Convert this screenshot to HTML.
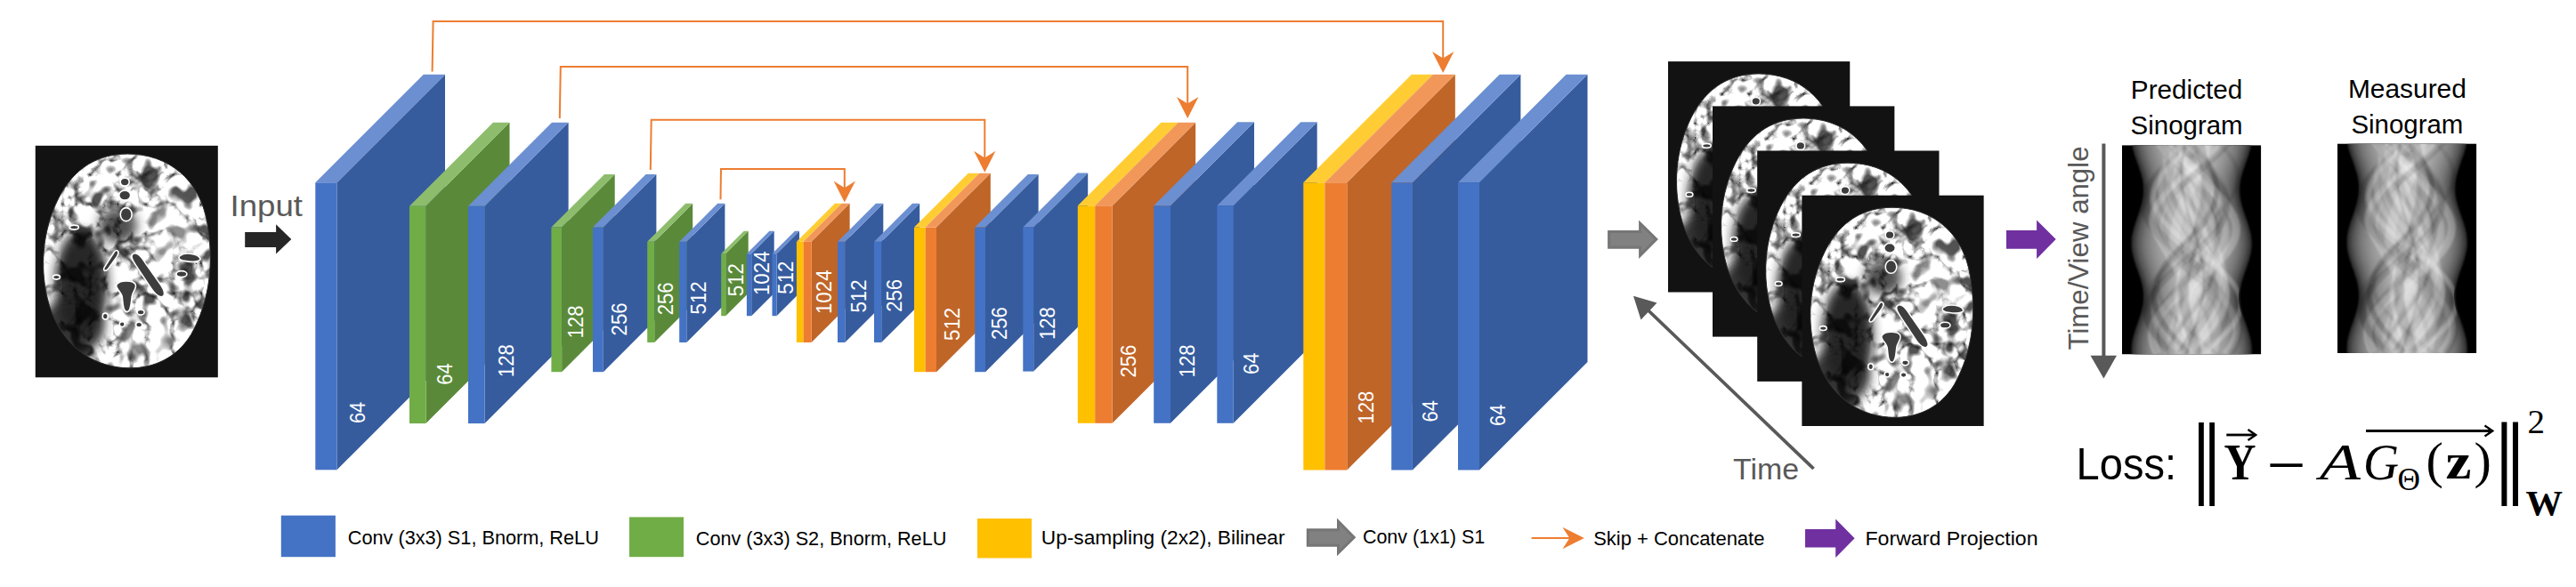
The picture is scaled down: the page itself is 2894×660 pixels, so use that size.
<!DOCTYPE html>
<html lang="en"><head><meta charset="utf-8"><title>Network architecture</title>
<style>html,body{margin:0;padding:0;background:#fff}body{width:2894px;height:660px;overflow:hidden}svg{display:block}text{font-family:"Liberation Sans",sans-serif}.lb{fill:#fff}.gr{fill:#595959}.lg{fill:#000;font-size:22.3px}.sf{font-family:"Liberation Serif",serif}</style></head><body>
<svg width="2894" height="660" viewBox="0 0 2894 660">
<defs>
<filter id="bn" x="0" y="0" width="100%" height="100%" color-interpolation-filters="sRGB"><feTurbulence type="turbulence" baseFrequency="0.032 0.03" numOctaves="3" seed="8" result="t"/><feColorMatrix in="t" type="matrix" values="3.4 0 0 0 0.1  3.4 0 0 0 0.1  3.4 0 0 0 0.1  0 0 0 0 1" result="v"/><feTurbulence type="fractalNoise" baseFrequency="0.05 0.045" numOctaves="2" seed="11" result="t2"/><feColorMatrix in="t2" type="matrix" values="5 0 0 0 -1.55  5 0 0 0 -1.55  5 0 0 0 -1.55  0 0 0 0 1" result="b"/><feComposite in="v" in2="b" operator="arithmetic" k1="0.85" k2="0.22" k3="0" k4="0.1" result="g"/><feComposite in="g" in2="SourceGraphic" operator="in"/></filter>
<filter id="bl4" x="-30%" y="-30%" width="160%" height="160%"><feGaussianBlur stdDeviation="6"/></filter>
<filter id="bl1" x="-30%" y="-30%" width="160%" height="160%"><feGaussianBlur stdDeviation="0.7"/></filter>
<clipPath id="bc"><path id="bo" d="M104,9.5 C150,9.5 186,38 194,88 C201,130 198,172 176,212 C158,242 128,252 100,250 C62,247 30,224 16,180 C4,140 8,96 26,60 C44,24 72,9.5 104,9.5 Z"/></clipPath>
<g id="bg">
<g clip-path="url(#bc)">
<path d="M104,9.5 C150,9.5 186,38 194,88 C201,130 198,172 176,212 C158,242 128,252 100,250 C62,247 30,224 16,180 C4,140 8,96 26,60 C44,24 72,9.5 104,9.5 Z" fill="#fff" filter="url(#bn)"/>
<g style="mix-blend-mode:multiply">
<ellipse cx="52" cy="155" rx="30" ry="60" fill="#1c1c1c" opacity="0.95" filter="url(#bl4)"/>
<ellipse cx="93" cy="90" rx="22" ry="20" fill="#262626" opacity="0.8" filter="url(#bl4)"/>
<ellipse cx="42" cy="204" rx="36" ry="32" fill="#222" opacity="0.9" filter="url(#bl4)"/>
</g>
<ellipse cx="152" cy="100" rx="26" ry="40" fill="#fff" opacity="0.35" filter="url(#bl4)"/>
<ellipse cx="125" cy="218" rx="32" ry="20" fill="#fff" opacity="0.35" filter="url(#bl4)"/>
<ellipse cx="20" cy="120" rx="5" ry="12" fill="#fff" opacity="0.5" filter="url(#bl4)"/>
<ellipse cx="22" cy="160" rx="5" ry="8" fill="#fff" opacity="0.35" filter="url(#bl4)"/>
<g fill="#3d3d3d" stroke="#fff" stroke-width="1.6" filter="url(#bl1)">
<ellipse cx="101" cy="41" rx="5" ry="4.5"/><ellipse cx="101" cy="56" rx="6.5" ry="5.5"/><ellipse cx="102.5" cy="77.5" rx="6.5" ry="7.5"/>
<path d="M110,122 C114,119 119,124 124,132 L141,156 C146,163 147,169 143,170 C139,171 134,166 129,158 L113,134 C109,128 107,124 110,122 Z"/>
<path d="M92,118 C95,119 94,123 90,128 L82,139 C79,142 76,141 78,137 L87,123 C89,120 90,117 92,118 Z"/>
<path d="M92,156 C96,151 110,151 113,156 C115,160 110,164 109,170 C108,178 108,186 104,187 C99,188 99,178 98,170 C97,164 89,160 92,156 Z"/>
<path d="M163,124 C170,119 184,122 186,127 C187,131 176,131 170,130 C164,130 160,127 163,124 Z"/>
<ellipse cx="165" cy="144.500" rx="6" ry="3.500"/>
<ellipse cx="79" cy="192" rx="3" ry="3.500"/><ellipse cx="98" cy="201" rx="3" ry="3"/><ellipse cx="119" cy="187.500" rx="4" ry="3"/><ellipse cx="117" cy="201.500" rx="3.500" ry="3"/>
<ellipse cx="24" cy="148" rx="4" ry="2.500"/><ellipse cx="44" cy="92" rx="5" ry="2.500"/>
</g></g>
<use href="#bo" fill="none" stroke="#333" stroke-width="1"/>
</g>
<symbol id="brain" viewBox="0 0 206 261" preserveAspectRatio="none"><rect width="206" height="261" fill="#121212"/><use href="#bg"/></symbol>
<symbol id="brain2" viewBox="0 0 206 261" preserveAspectRatio="none"><rect width="206" height="261" fill="#121212"/><use href="#bg" transform="translate(102.2 132) scale(0.978 0.986) translate(-103.75 -129.25)"/></symbol>
<filter id="sb0" x="-20%" y="-10%" width="140%" height="120%"><feGaussianBlur stdDeviation="0.9"/></filter>
<filter id="sb1" x="-20%" y="-10%" width="140%" height="120%"><feGaussianBlur stdDeviation="2"/></filter>
<filter id="sb2" x="-20%" y="-10%" width="140%" height="120%"><feGaussianBlur stdDeviation="3.5"/></filter>
<filter id="sb3" x="-20%" y="-10%" width="140%" height="120%"><feGaussianBlur stdDeviation="5.5"/></filter>
<filter id="sb4" x="-20%" y="-10%" width="140%" height="120%"><feGaussianBlur stdDeviation="7"/></filter>
<filter id="sb5" x="-20%" y="-10%" width="140%" height="120%"><feGaussianBlur stdDeviation="8"/></filter>
<filter id="sbx" x="-20%" y="-20%" width="140%" height="140%"><feGaussianBlur stdDeviation="1.3"/></filter>
<clipPath id="sc"><rect width="156" height="236"/></clipPath>
<clipPath id="sc2"><path d="M11.7,-8 L12.0,-4 L12.5,0 L13.3,4 L14.3,8 L15.5,12 L16.9,16 L18.3,20 L19.7,24 L21.0,28 L22.3,32 L23.4,36 L24.3,40 L24.9,44 L25.2,48 L25.3,52 L25.0,56 L24.5,60 L23.7,64 L22.7,68 L21.5,72 L20.2,76 L18.8,80 L17.4,84 L16.0,88 L14.8,92 L13.7,96 L12.8,100 L12.1,104 L11.8,108 L11.7,112 L11.9,116 L12.4,120 L13.2,124 L14.2,128 L15.4,132 L16.7,136 L18.1,140 L19.6,144 L20.9,148 L22.2,152 L23.3,156 L24.2,160 L24.8,164 L25.2,168 L25.3,172 L25.1,176 L24.6,180 L23.8,184 L22.8,188 L21.6,192 L20.3,196 L18.9,200 L17.5,204 L16.1,208 L14.9,212 L13.8,216 L12.8,220 L12.2,224 L11.8,228 L11.7,232 L11.9,236 L12.4,240 L13.1,244 L142.9,244 L143.6,240 L144.1,236 L144.3,232 L144.2,228 L143.8,224 L143.2,220 L142.2,216 L141.1,212 L139.9,208 L138.5,204 L137.1,200 L135.7,196 L134.4,192 L133.2,188 L132.2,184 L131.4,180 L130.9,176 L130.7,172 L130.8,168 L131.2,164 L131.8,160 L132.7,156 L133.8,152 L135.1,148 L136.4,144 L137.9,140 L139.3,136 L140.6,132 L141.8,128 L142.8,124 L143.6,120 L144.1,116 L144.3,112 L144.2,108 L143.9,104 L143.2,100 L142.3,96 L141.2,92 L140.0,88 L138.6,84 L137.2,80 L135.8,76 L134.5,72 L133.3,68 L132.3,64 L131.5,60 L131.0,56 L130.7,52 L130.8,48 L131.1,44 L131.7,40 L132.6,36 L133.7,32 L135.0,28 L136.3,24 L137.7,20 L139.1,16 L140.5,12 L141.7,8 L142.7,4 L143.5,0 L144.0,-4 L144.3,-8 Z"/></clipPath>
<symbol id="sino" viewBox="0 0 156 236" preserveAspectRatio="none">
<rect width="156" height="236" fill="#000"/>
<g clip-path="url(#sc)">
<path d="M10.7,-8 L11.0,-4 L11.5,0 L12.3,4 L13.3,8 L14.5,12 L15.9,16 L17.3,20 L18.7,24 L20.0,28 L21.3,32 L22.4,36 L23.3,40 L23.9,44 L24.2,48 L24.3,52 L24.0,56 L23.5,60 L22.7,64 L21.7,68 L20.5,72 L19.2,76 L17.8,80 L16.4,84 L15.0,88 L13.8,92 L12.7,96 L11.8,100 L11.1,104 L10.8,108 L10.7,112 L10.9,116 L11.4,120 L12.2,124 L13.2,128 L14.4,132 L15.7,136 L17.1,140 L18.6,144 L19.9,148 L21.2,152 L22.3,156 L23.2,160 L23.8,164 L24.2,168 L24.3,172 L24.1,176 L23.6,180 L22.8,184 L21.8,188 L20.6,192 L19.3,196 L17.9,200 L16.5,204 L15.1,208 L13.9,212 L12.8,216 L11.8,220 L11.2,224 L10.8,228 L10.7,232 L10.9,236 L11.4,240 L12.1,244 L143.9,244 L144.6,240 L145.1,236 L145.3,232 L145.2,228 L144.8,224 L144.2,220 L143.2,216 L142.1,212 L140.9,208 L139.5,204 L138.1,200 L136.7,196 L135.4,192 L134.2,188 L133.2,184 L132.4,180 L131.9,176 L131.7,172 L131.8,168 L132.2,164 L132.8,160 L133.7,156 L134.8,152 L136.1,148 L137.4,144 L138.9,140 L140.3,136 L141.6,132 L142.8,128 L143.8,124 L144.6,120 L145.1,116 L145.3,112 L145.2,108 L144.9,104 L144.2,100 L143.3,96 L142.2,92 L141.0,88 L139.6,84 L138.2,80 L136.8,76 L135.5,72 L134.3,68 L133.3,64 L132.5,60 L132.0,56 L131.7,52 L131.8,48 L132.1,44 L132.7,40 L133.6,36 L134.7,32 L136.0,28 L137.3,24 L138.7,20 L140.1,16 L141.5,12 L142.7,8 L143.7,4 L144.5,0 L145.0,-4 L145.3,-8 Z" fill="#333" filter="url(#sb0)"/>
<path d="M14.7,-8 L15.0,-4 L15.5,0 L16.3,4 L17.3,8 L18.5,12 L19.9,16 L21.3,20 L22.7,24 L24.0,28 L25.3,32 L26.4,36 L27.3,40 L27.9,44 L28.2,48 L28.3,52 L28.0,56 L27.5,60 L26.7,64 L25.7,68 L24.5,72 L23.2,76 L21.8,80 L20.4,84 L19.0,88 L17.8,92 L16.7,96 L15.8,100 L15.1,104 L14.8,108 L14.7,112 L14.9,116 L15.4,120 L16.2,124 L17.2,128 L18.4,132 L19.7,136 L21.1,140 L22.6,144 L23.9,148 L25.2,152 L26.3,156 L27.2,160 L27.8,164 L28.2,168 L28.3,172 L28.1,176 L27.6,180 L26.8,184 L25.8,188 L24.6,192 L23.3,196 L21.9,200 L20.5,204 L19.1,208 L17.9,212 L16.8,216 L15.8,220 L15.2,224 L14.8,228 L14.7,232 L14.9,236 L15.4,240 L16.1,244 L139.9,244 L140.6,240 L141.1,236 L141.3,232 L141.2,228 L140.8,224 L140.2,220 L139.2,216 L138.1,212 L136.9,208 L135.5,204 L134.1,200 L132.7,196 L131.4,192 L130.2,188 L129.2,184 L128.4,180 L127.9,176 L127.7,172 L127.8,168 L128.2,164 L128.8,160 L129.7,156 L130.8,152 L132.1,148 L133.4,144 L134.9,140 L136.3,136 L137.6,132 L138.8,128 L139.8,124 L140.6,120 L141.1,116 L141.3,112 L141.2,108 L140.9,104 L140.2,100 L139.3,96 L138.2,92 L137.0,88 L135.6,84 L134.2,80 L132.8,76 L131.5,72 L130.3,68 L129.3,64 L128.5,60 L128.0,56 L127.7,52 L127.8,48 L128.1,44 L128.7,40 L129.6,36 L130.7,32 L132.0,28 L133.3,24 L134.7,20 L136.1,16 L137.5,12 L138.7,8 L139.7,4 L140.5,0 L141.0,-4 L141.3,-8 Z" fill="#505050" filter="url(#sb1)"/>
<path d="M20.7,-8 L21.0,-4 L21.5,0 L22.3,4 L23.3,8 L24.5,12 L25.9,16 L27.3,20 L28.7,24 L30.0,28 L31.3,32 L32.4,36 L33.3,40 L33.9,44 L34.2,48 L34.3,52 L34.0,56 L33.5,60 L32.7,64 L31.7,68 L30.5,72 L29.2,76 L27.8,80 L26.4,84 L25.0,88 L23.8,92 L22.7,96 L21.8,100 L21.1,104 L20.8,108 L20.7,112 L20.9,116 L21.4,120 L22.2,124 L23.2,128 L24.4,132 L25.7,136 L27.1,140 L28.6,144 L29.9,148 L31.2,152 L32.3,156 L33.2,160 L33.8,164 L34.2,168 L34.3,172 L34.1,176 L33.6,180 L32.8,184 L31.8,188 L30.6,192 L29.3,196 L27.9,200 L26.5,204 L25.1,208 L23.9,212 L22.8,216 L21.8,220 L21.2,224 L20.8,228 L20.7,232 L20.9,236 L21.4,240 L22.1,244 L133.9,244 L134.6,240 L135.1,236 L135.3,232 L135.2,228 L134.8,224 L134.2,220 L133.2,216 L132.1,212 L130.9,208 L129.5,204 L128.1,200 L126.7,196 L125.4,192 L124.2,188 L123.2,184 L122.4,180 L121.9,176 L121.7,172 L121.8,168 L122.2,164 L122.8,160 L123.7,156 L124.8,152 L126.1,148 L127.4,144 L128.9,140 L130.3,136 L131.6,132 L132.8,128 L133.8,124 L134.6,120 L135.1,116 L135.3,112 L135.2,108 L134.9,104 L134.2,100 L133.3,96 L132.2,92 L131.0,88 L129.6,84 L128.2,80 L126.8,76 L125.5,72 L124.3,68 L123.3,64 L122.5,60 L122.0,56 L121.7,52 L121.8,48 L122.1,44 L122.7,40 L123.6,36 L124.7,32 L126.0,28 L127.3,24 L128.7,20 L130.1,16 L131.5,12 L132.7,8 L133.7,4 L134.5,0 L135.0,-4 L135.3,-8 Z" fill="#6e6e6e" filter="url(#sb2)"/>
<path d="M28.7,-8 L29.0,-4 L29.5,0 L30.3,4 L31.3,8 L32.5,12 L33.9,16 L35.3,20 L36.7,24 L38.0,28 L39.3,32 L40.4,36 L41.3,40 L41.9,44 L42.2,48 L42.3,52 L42.0,56 L41.5,60 L40.7,64 L39.7,68 L38.5,72 L37.2,76 L35.8,80 L34.4,84 L33.0,88 L31.8,92 L30.7,96 L29.8,100 L29.1,104 L28.8,108 L28.7,112 L28.9,116 L29.4,120 L30.2,124 L31.2,128 L32.4,132 L33.7,136 L35.1,140 L36.6,144 L37.9,148 L39.2,152 L40.3,156 L41.2,160 L41.8,164 L42.2,168 L42.3,172 L42.1,176 L41.6,180 L40.8,184 L39.8,188 L38.6,192 L37.3,196 L35.9,200 L34.5,204 L33.1,208 L31.9,212 L30.8,216 L29.8,220 L29.2,224 L28.8,228 L28.7,232 L28.9,236 L29.4,240 L30.1,244 L125.9,244 L126.6,240 L127.1,236 L127.3,232 L127.2,228 L126.8,224 L126.2,220 L125.2,216 L124.1,212 L122.9,208 L121.5,204 L120.1,200 L118.7,196 L117.4,192 L116.2,188 L115.2,184 L114.4,180 L113.9,176 L113.7,172 L113.8,168 L114.2,164 L114.8,160 L115.7,156 L116.8,152 L118.1,148 L119.4,144 L120.9,140 L122.3,136 L123.6,132 L124.8,128 L125.8,124 L126.6,120 L127.1,116 L127.3,112 L127.2,108 L126.9,104 L126.2,100 L125.3,96 L124.2,92 L123.0,88 L121.6,84 L120.2,80 L118.8,76 L117.5,72 L116.3,68 L115.3,64 L114.5,60 L114.0,56 L113.7,52 L113.8,48 L114.1,44 L114.7,40 L115.6,36 L116.7,32 L118.0,28 L119.3,24 L120.7,20 L122.1,16 L123.5,12 L124.7,8 L125.7,4 L126.5,0 L127.0,-4 L127.3,-8 Z" fill="#8c8c8c" filter="url(#sb3)"/>
<path d="M40.7,-8 L41.0,-4 L41.5,0 L42.3,4 L43.3,8 L44.5,12 L45.9,16 L47.3,20 L48.7,24 L50.0,28 L51.3,32 L52.4,36 L53.3,40 L53.9,44 L54.2,48 L54.3,52 L54.0,56 L53.5,60 L52.7,64 L51.7,68 L50.5,72 L49.2,76 L47.8,80 L46.4,84 L45.0,88 L43.8,92 L42.7,96 L41.8,100 L41.1,104 L40.8,108 L40.7,112 L40.9,116 L41.4,120 L42.2,124 L43.2,128 L44.4,132 L45.7,136 L47.1,140 L48.6,144 L49.9,148 L51.2,152 L52.3,156 L53.2,160 L53.8,164 L54.2,168 L54.3,172 L54.1,176 L53.6,180 L52.8,184 L51.8,188 L50.6,192 L49.3,196 L47.9,200 L46.5,204 L45.1,208 L43.9,212 L42.8,216 L41.8,220 L41.2,224 L40.8,228 L40.7,232 L40.9,236 L41.4,240 L42.1,244 L113.9,244 L114.6,240 L115.1,236 L115.3,232 L115.2,228 L114.8,224 L114.2,220 L113.2,216 L112.1,212 L110.9,208 L109.5,204 L108.1,200 L106.7,196 L105.4,192 L104.2,188 L103.2,184 L102.4,180 L101.9,176 L101.7,172 L101.8,168 L102.2,164 L102.8,160 L103.7,156 L104.8,152 L106.1,148 L107.4,144 L108.9,140 L110.3,136 L111.6,132 L112.8,128 L113.8,124 L114.6,120 L115.1,116 L115.3,112 L115.2,108 L114.9,104 L114.2,100 L113.3,96 L112.2,92 L111.0,88 L109.6,84 L108.2,80 L106.8,76 L105.5,72 L104.3,68 L103.3,64 L102.5,60 L102.0,56 L101.7,52 L101.8,48 L102.1,44 L102.7,40 L103.6,36 L104.7,32 L106.0,28 L107.3,24 L108.7,20 L110.1,16 L111.5,12 L112.7,8 L113.7,4 L114.5,0 L115.0,-4 L115.3,-8 Z" fill="#aaa" filter="url(#sb4)"/>
<path d="M56.7,-8 L57.0,-4 L57.5,0 L58.3,4 L59.3,8 L60.5,12 L61.9,16 L63.3,20 L64.7,24 L66.0,28 L67.3,32 L68.4,36 L69.3,40 L69.9,44 L70.2,48 L70.3,52 L70.0,56 L69.5,60 L68.7,64 L67.7,68 L66.5,72 L65.2,76 L63.8,80 L62.4,84 L61.0,88 L59.8,92 L58.7,96 L57.8,100 L57.1,104 L56.8,108 L56.7,112 L56.9,116 L57.4,120 L58.2,124 L59.2,128 L60.4,132 L61.7,136 L63.1,140 L64.6,144 L65.9,148 L67.2,152 L68.3,156 L69.2,160 L69.8,164 L70.2,168 L70.3,172 L70.1,176 L69.6,180 L68.8,184 L67.8,188 L66.6,192 L65.3,196 L63.9,200 L62.5,204 L61.1,208 L59.9,212 L58.8,216 L57.8,220 L57.2,224 L56.8,228 L56.7,232 L56.9,236 L57.4,240 L58.1,244 L97.9,244 L98.6,240 L99.1,236 L99.3,232 L99.2,228 L98.8,224 L98.2,220 L97.2,216 L96.1,212 L94.9,208 L93.5,204 L92.1,200 L90.7,196 L89.4,192 L88.2,188 L87.2,184 L86.4,180 L85.9,176 L85.7,172 L85.8,168 L86.2,164 L86.8,160 L87.7,156 L88.8,152 L90.1,148 L91.4,144 L92.9,140 L94.3,136 L95.6,132 L96.8,128 L97.8,124 L98.6,120 L99.1,116 L99.3,112 L99.2,108 L98.9,104 L98.2,100 L97.3,96 L96.2,92 L95.0,88 L93.6,84 L92.2,80 L90.8,76 L89.5,72 L88.3,68 L87.3,64 L86.5,60 L86.0,56 L85.7,52 L85.8,48 L86.1,44 L86.7,40 L87.6,36 L88.7,32 L90.0,28 L91.3,24 L92.7,20 L94.1,16 L95.5,12 L96.7,8 L97.7,4 L98.5,0 L99.0,-4 L99.3,-8 Z" fill="#c6c6c6" filter="url(#sb5)"/>
<g clip-path="url(#sc2)" filter="url(#sbx)" fill="none">
<path d="M99.8,-4 L96.4,2 L92.5,8 L88.1,14 L83.3,20 L78.3,26 L73.2,32 L68.1,38 L63.2,44 L58.5,50 L54.2,56 L50.3,62 L47.1,68 L44.5,74 L42.6,80 L41.5,86 L41.1,92 L41.6,98 L42.9,104 L44.9,110 L47.6,116 L51.0,122 L54.9,128 L59.3,134 L64.0,140 L69.0,146 L74.1,152 L79.2,158 L84.1,164 L88.9,170 L93.2,176 L97.1,182 L100.4,188 L103.0,194 L104.9,200 L106.1,206 L106.5,212 L106.1,218 L104.9,224 L102.9,230 L100.2,236" stroke="#fff" stroke-opacity="0.19" stroke-width="8.6"/>
<path d="M59.8,-4 L60.7,2 L62.0,8 L63.4,14 L65.1,20 L66.8,26 L68.7,32 L70.7,38 L72.6,44 L74.5,50 L76.4,56 L78.1,62 L79.6,68 L80.9,74 L82.0,80 L82.8,86 L83.3,92 L83.5,98 L83.5,104 L83.1,110 L82.4,116 L81.4,122 L80.2,128 L78.8,134 L77.1,140 L75.4,146 L73.5,152 L71.5,158 L69.6,164 L67.7,170 L65.8,176 L64.1,182 L62.6,188 L61.2,194 L60.2,200 L59.3,206 L58.8,212 L58.6,218 L58.6,224 L59.0,230 L59.7,236" stroke="#111" stroke-opacity="0.10" stroke-width="5.1"/>
<path d="M58.9,-4 L61.2,2 L64.1,8 L67.6,14 L71.5,20 L75.7,26 L80.2,32 L84.9,38 L89.5,44 L94.1,50 L98.5,56 L102.6,62 L106.2,68 L109.4,74 L112.0,80 L114.0,86 L115.2,92 L115.8,98 L115.6,104 L114.7,110 L113.1,116 L110.8,122 L107.9,128 L104.5,134 L100.6,140 L96.4,146 L91.9,152 L87.3,158 L82.6,164 L78.0,170 L73.6,176 L69.5,182 L65.8,188 L62.6,194 L60.0,200 L58.0,206 L56.7,212 L56.1,218 L56.2,224 L57.1,230 L58.7,236" stroke="#fff" stroke-opacity="0.18" stroke-width="8.8"/>
<path d="M43.4,-4 L47.1,2 L51.4,8 L56.3,14 L61.5,20 L67.0,26 L72.6,32 L78.3,38 L83.8,44 L89.0,50 L93.8,56 L98.1,62 L101.7,68 L104.6,74 L106.8,80 L108.1,86 L108.5,92 L108.1,98 L106.8,104 L104.6,110 L101.6,116 L98.0,122 L93.7,128 L88.9,134 L83.7,140 L78.2,146 L72.5,152 L66.9,158 L61.4,164 L56.2,170 L51.3,176 L47.0,182 L43.3,188 L40.3,194 L38.1,200 L36.8,206 L36.3,212 L36.7,218 L38.0,224 L40.1,230 L43.0,236" stroke="#111" stroke-opacity="0.13" stroke-width="9.7"/>
<path d="M66.3,-4 L66.4,2 L66.8,8 L67.5,14 L68.6,20 L70.0,26 L71.6,32 L73.5,38 L75.5,44 L77.7,50 L79.9,56 L82.2,62 L84.4,68 L86.5,74 L88.5,80 L90.3,86 L91.9,92 L93.2,98 L94.2,104 L94.8,110 L95.1,116 L95.1,122 L94.7,128 L94.0,134 L92.9,140 L91.6,146 L90.0,152 L88.1,158 L86.1,164 L83.9,170 L81.7,176 L79.4,182 L77.2,188 L75.1,194 L73.1,200 L71.3,206 L69.7,212 L68.4,218 L67.4,224 L66.7,230 L66.3,236" stroke="#fff" stroke-opacity="0.19" stroke-width="5.7"/>
<path d="M82.7,-4 L75.8,2 L68.8,8 L61.8,14 L55.1,20 L48.7,26 L42.8,32 L37.7,38 L33.3,44 L29.8,50 L27.4,56 L25.9,62 L25.6,68 L26.4,74 L28.3,80 L31.2,86 L35.0,92 L39.7,98 L45.2,104 L51.3,110 L57.9,116 L64.7,122 L71.8,128 L78.7,134 L85.5,140 L91.9,146 L97.8,152 L103.0,158 L107.5,164 L111.0,170 L113.5,176 L115.0,182 L115.4,188 L114.7,194 L112.9,200 L110.0,206 L106.2,212 L101.6,218 L96.1,224 L90.1,230 L83.5,236" stroke="#111" stroke-opacity="0.14" stroke-width="10.9"/>
<path d="M114.0,-4 L108.3,2 L101.9,8 L95.1,14 L87.9,20 L80.5,26 L73.2,32 L66.1,38 L59.4,44 L53.2,50 L47.7,56 L43.0,62 L39.2,68 L36.5,74 L34.9,80 L34.4,86 L35.1,92 L36.9,98 L39.8,104 L43.7,110 L48.6,116 L54.2,122 L60.5,128 L67.4,134 L74.5,140 L81.9,146 L89.2,152 L96.3,158 L103.1,164 L109.3,170 L114.9,176 L119.6,182 L123.4,188 L126.2,194 L127.9,200 L128.4,206 L127.8,212 L126.1,218 L123.2,224 L119.4,230 L114.6,236" stroke="#fff" stroke-opacity="0.22" stroke-width="7.0"/>
<path d="M107.0,-4 L113.0,2 L118.2,8 L122.6,14 L126.1,20 L128.6,26 L130.0,32 L130.3,38 L129.5,44 L127.7,50 L124.7,56 L120.8,62 L116.1,68 L110.5,74 L104.4,80 L97.7,86 L90.8,92 L83.7,98 L76.6,104 L69.7,110 L63.3,116 L57.3,122 L52.0,128 L47.6,134 L44.0,140 L41.5,146 L40.0,152 L39.6,158 L40.3,164 L42.1,170 L45.0,176 L48.8,182 L53.6,188 L59.1,194 L65.2,200 L71.8,206 L78.8,212 L85.8,218 L92.9,224 L99.8,230 L106.3,236" stroke="#111" stroke-opacity="0.09" stroke-width="5.0"/>
<path d="M67.2,-4 L64.0,2 L61.3,8 L59.2,14 L57.8,20 L57.0,26 L56.9,32 L57.5,38 L58.8,44 L60.8,50 L63.3,56 L66.4,62 L70.0,68 L73.9,74 L78.2,80 L82.6,86 L87.0,92 L91.5,98 L95.7,104 L99.8,110 L103.5,116 L106.7,122 L109.4,128 L111.5,134 L113.0,140 L113.9,146 L114.0,152 L113.4,158 L112.1,164 L110.2,170 L107.7,176 L104.7,182 L101.1,188 L97.2,194 L93.0,200 L88.6,206 L84.1,212 L79.7,218 L75.4,224 L71.4,230 L67.6,236" stroke="#fff" stroke-opacity="0.16" stroke-width="7.6"/>
<path d="M65.6,-4 L62.1,2 L59.0,8 L56.3,14 L54.1,20 L52.4,26 L51.3,32 L50.9,38 L51.0,44 L51.7,50 L53.1,56 L55.0,62 L57.4,68 L60.3,74 L63.6,80 L67.2,86 L71.0,92 L74.9,98 L78.9,104 L82.8,110 L86.5,116 L90.0,122 L93.1,128 L95.9,134 L98.1,140 L99.8,146 L100.9,152 L101.5,158 L101.4,164 L100.7,170 L99.3,176 L97.5,182 L95.1,188 L92.2,194 L88.9,200 L85.4,206 L81.6,212 L77.7,218 L73.7,224 L69.8,230 L66.0,236" stroke="#111" stroke-opacity="0.13" stroke-width="11.1"/>
<path d="M40.9,-4 L45.4,2 L50.7,8 L56.7,14 L63.4,20 L70.4,26 L77.7,32 L85.1,38 L92.4,44 L99.5,50 L106.0,56 L112.0,62 L117.1,68 L121.4,74 L124.8,80 L127.0,86 L128.1,92 L128.0,98 L126.8,104 L124.5,110 L121.1,116 L116.7,122 L111.5,128 L105.5,134 L98.9,140 L91.8,146 L84.5,152 L77.1,158 L69.8,164 L62.8,170 L56.2,176 L50.2,182 L45.0,188 L40.6,194 L37.2,200 L34.9,206 L33.8,212 L33.7,218 L34.9,224 L37.1,230 L40.5,236" stroke="#fff" stroke-opacity="0.24" stroke-width="9.0"/>
<path d="M58.3,-4 L65.0,2 L72.0,8 L79.0,14 L85.8,20 L92.3,26 L98.3,32 L103.7,38 L108.3,44 L112.1,50 L114.9,56 L116.6,62 L117.3,68 L116.9,74 L115.4,80 L112.8,86 L109.3,92 L104.9,98 L99.6,104 L93.8,110 L87.4,116 L80.6,122 L73.6,128 L66.6,134 L59.8,140 L53.3,146 L47.2,152 L41.8,158 L37.1,164 L33.3,170 L30.5,176 L28.7,182 L27.9,188 L28.3,194 L29.7,200 L32.2,206 L35.7,212 L40.1,218 L45.2,224 L51.1,230 L57.5,236" stroke="#111" stroke-opacity="0.16" stroke-width="8.1"/>
<path d="M63.0,-4 L64.5,2 L66.4,8 L68.6,14 L71.2,20 L74.0,26 L77.0,32 L80.1,38 L83.2,44 L86.3,50 L89.3,56 L92.1,62 L94.6,68 L96.8,74 L98.6,80 L100.0,86 L100.9,92 L101.4,98 L101.4,104 L100.9,110 L99.9,116 L98.4,122 L96.6,128 L94.4,134 L91.8,140 L89.0,146 L86.0,152 L82.9,158 L79.8,164 L76.7,170 L73.7,176 L70.9,182 L68.4,188 L66.2,194 L64.4,200 L62.9,206 L62.0,212 L61.5,218 L61.5,224 L61.9,230 L62.9,236" stroke="#fff" stroke-opacity="0.19" stroke-width="5.6"/>
<path d="M63.6,-4 L70.5,2 L77.4,8 L84.2,14 L90.7,20 L96.6,26 L102.0,32 L106.6,38 L110.3,44 L113.1,50 L114.8,56 L115.5,62 L115.0,68 L113.5,74 L111.0,80 L107.5,86 L103.0,92 L97.8,98 L92.0,104 L85.6,110 L78.9,116 L72.0,122 L65.0,128 L58.2,134 L51.7,140 L45.7,146 L40.3,152 L35.7,158 L31.9,164 L29.1,170 L27.3,176 L26.6,182 L26.9,188 L28.4,194 L30.9,200 L34.3,206 L38.7,212 L43.9,218 L49.7,224 L56.0,230 L62.7,236" stroke="#111" stroke-opacity="0.09" stroke-width="10.2"/>
<path d="M94.0,-4 L93.4,2 L92.3,8 L90.8,14 L88.9,20 L86.8,26 L84.4,32 L81.9,38 L79.2,44 L76.4,50 L73.6,56 L70.9,62 L68.4,68 L66.0,74 L63.9,80 L62.1,86 L60.7,92 L59.7,98 L59.0,104 L58.8,110 L59.1,116 L59.7,122 L60.8,128 L62.3,134 L64.1,140 L66.2,146 L68.6,152 L71.1,158 L73.8,164 L76.6,170 L79.3,176 L82.0,182 L84.6,188 L87.0,194 L89.1,200 L90.9,206 L92.3,212 L93.4,218 L94.1,224 L94.3,230 L94.1,236" stroke="#fff" stroke-opacity="0.21" stroke-width="10.9"/>
<path d="M77.0,-4 L82.3,2 L87.4,8 L92.0,14 L96.2,20 L99.7,26 L102.5,32 L104.5,38 L105.7,44 L106.1,50 L105.5,56 L104.2,62 L102.0,68 L99.0,74 L95.3,80 L91.1,86 L86.3,92 L81.2,98 L75.8,104 L70.3,110 L64.8,116 L59.4,122 L54.3,128 L49.6,134 L45.5,140 L41.9,146 L39.1,152 L37.0,158 L35.7,164 L35.4,170 L35.8,176 L37.2,182 L39.3,188 L42.2,194 L45.8,200 L50.1,206 L54.8,212 L59.9,218 L65.3,224 L70.8,230 L76.3,236" stroke="#111" stroke-opacity="0.14" stroke-width="6.0"/>
<path d="M87.6,-4 L79.9,2 L72.2,8 L64.9,14 L58.1,20 L51.9,26 L46.5,32 L42.0,38 L38.5,44 L36.1,50 L35.0,56 L35.0,62 L36.2,68 L38.6,74 L42.1,80 L46.7,86 L52.1,92 L58.4,98 L65.2,104 L72.6,110 L80.2,116 L87.9,122 L95.5,128 L102.8,134 L109.7,140 L116.0,146 L121.4,152 L126.0,158 L129.5,164 L131.9,170 L133.2,176 L133.2,182 L132.1,188 L129.7,194 L126.3,200 L121.8,206 L116.4,212 L110.2,218 L103.4,224 L96.1,230 L88.5,236" stroke="#fff" stroke-opacity="0.24" stroke-width="5.8"/>
<path d="M74.5,-4 L79.8,2 L85.0,8 L89.8,14 L94.2,20 L98.0,26 L101.1,32 L103.5,38 L105.1,44 L105.9,50 L105.9,56 L105.0,62 L103.3,68 L100.7,74 L97.5,80 L93.6,86 L89.2,92 L84.3,98 L79.2,104 L73.8,110 L68.3,116 L63.0,122 L57.8,128 L53.0,134 L48.6,140 L44.7,146 L41.5,152 L39.1,158 L37.4,164 L36.5,170 L36.5,176 L37.4,182 L39.1,188 L41.5,194 L44.7,200 L48.6,206 L53.0,212 L57.8,218 L63.0,224 L68.4,230 L73.8,236" stroke="#111" stroke-opacity="0.10" stroke-width="6.7"/>
<path d="M82.7,-4 L85.4,2 L88.0,8 L90.4,14 L92.5,20 L94.3,26 L95.8,32 L96.8,38 L97.5,44 L97.7,50 L97.5,56 L96.8,62 L95.8,68 L94.3,74 L92.5,80 L90.3,86 L87.9,92 L85.4,98 L82.6,104 L79.8,110 L77.0,116 L74.3,122 L71.7,128 L69.3,134 L67.2,140 L65.3,146 L63.8,152 L62.8,158 L62.1,164 L61.8,170 L62.0,176 L62.7,182 L63.7,188 L65.1,194 L66.9,200 L69.1,206 L71.4,212 L74.0,218 L76.7,224 L79.5,230 L82.3,236" stroke="#fff" stroke-opacity="0.22" stroke-width="5.8"/>
<path d="M120.6,-4 L115.6,2 L109.8,8 L103.4,14 L96.6,20 L89.4,26 L82.2,32 L75.1,38 L68.2,44 L61.8,50 L55.9,56 L50.7,62 L46.4,68 L43.0,74 L40.7,80 L39.5,86 L39.4,92 L40.4,98 L42.5,104 L45.6,110 L49.8,116 L54.8,122 L60.5,128 L66.9,134 L73.7,140 L80.8,146 L88.0,152 L95.1,158 L102.1,164 L108.5,170 L114.5,176 L119.7,182 L124.0,188 L127.5,194 L129.9,200 L131.2,206 L131.3,212 L130.4,218 L128.4,224 L125.3,230 L121.2,236" stroke="#111" stroke-opacity="0.12" stroke-width="7.7"/>
<path d="M71.1,-4 L66.0,2 L61.3,8 L57.0,14 L53.3,20 L50.2,26 L47.9,32 L46.4,38 L45.7,44 L45.9,50 L46.9,56 L48.7,62 L51.3,68 L54.6,74 L58.5,80 L63.0,86 L67.8,92 L73.0,98 L78.4,104 L83.8,110 L89.2,116 L94.3,122 L99.0,128 L103.4,134 L107.1,140 L110.2,146 L112.6,152 L114.1,158 L114.9,164 L114.8,170 L113.8,176 L112.1,182 L109.5,188 L106.3,194 L102.4,200 L97.9,206 L93.1,212 L87.9,218 L82.5,224 L77.1,230 L71.8,236" stroke="#fff" stroke-opacity="0.19" stroke-width="11.5"/>
<path d="M50.9,-4 L50.0,2 L49.7,8 L50.2,14 L51.3,20 L53.1,26 L55.5,32 L58.4,38 L61.9,44 L65.7,50 L69.8,56 L74.2,62 L78.6,68 L83.0,74 L87.3,80 L91.4,86 L95.2,92 L98.5,98 L101.3,104 L103.6,110 L105.2,116 L106.2,122 L106.5,128 L106.1,134 L105.0,140 L103.3,146 L100.9,152 L98.0,158 L94.6,164 L90.8,170 L86.6,176 L82.3,182 L77.9,188 L73.5,194 L69.1,200 L65.1,206 L61.3,212 L57.9,218 L55.1,224 L52.8,230 L51.1,236" stroke="#111" stroke-opacity="0.10" stroke-width="5.7"/>
<path d="M79.3,-4 L74.5,2 L70.0,8 L65.9,14 L62.3,20 L59.2,26 L56.8,32 L55.0,38 L54.1,44 L53.9,50 L54.4,56 L55.8,62 L57.9,68 L60.6,74 L64.0,80 L67.9,86 L72.2,92 L76.9,98 L81.8,104 L86.7,110 L91.7,116 L96.5,122 L101.0,128 L105.2,134 L108.8,140 L111.9,146 L114.4,152 L116.2,158 L117.2,164 L117.4,170 L116.9,176 L115.6,182 L113.6,188 L110.9,194 L107.5,200 L103.7,206 L99.3,212 L94.7,218 L89.8,224 L84.9,230 L79.9,236" stroke="#fff" stroke-opacity="0.12" stroke-width="6.7"/>
<path d="M71.8,-4 L70.3,2 L69.0,8 L67.9,14 L67.2,20 L66.7,26 L66.5,32 L66.7,38 L67.1,44 L67.9,50 L68.9,56 L70.2,62 L71.7,68 L73.4,74 L75.2,80 L77.1,86 L79.1,92 L81.1,98 L83.1,104 L84.9,110 L86.6,116 L88.2,122 L89.5,128 L90.6,134 L91.4,140 L91.8,146 L92.0,152 L91.9,158 L91.5,164 L90.8,170 L89.7,176 L88.5,182 L87.0,188 L85.3,194 L83.5,200 L81.5,206 L79.6,212 L77.6,218 L75.6,224 L73.8,230 L72.0,236" stroke="#111" stroke-opacity="0.14" stroke-width="3.5"/>
<path d="M54.7,-4 L52.6,2 L51.1,8 L50.4,14 L50.4,20 L51.1,26 L52.6,32 L54.7,38 L57.4,44 L60.7,50 L64.4,56 L68.6,62 L73.0,68 L77.6,74 L82.2,80 L86.8,86 L91.2,92 L95.4,98 L99.2,104 L102.5,110 L105.2,116 L107.4,122 L108.9,128 L109.6,134 L109.7,140 L109.0,146 L107.6,152 L105.6,158 L102.9,164 L99.6,170 L95.9,176 L91.8,182 L87.4,188 L82.8,194 L78.1,200 L73.5,206 L69.1,212 L64.9,218 L61.1,224 L57.8,230 L55.0,236" stroke="#fff" stroke-opacity="0.16" stroke-width="9.4"/>
<path d="M85.3,-4 L87.2,2 L88.9,8 L90.5,14 L91.9,20 L93.0,26 L93.9,32 L94.4,38 L94.6,44 L94.6,50 L94.2,56 L93.5,62 L92.5,68 L91.3,74 L89.8,80 L88.1,86 L86.3,92 L84.4,98 L82.4,104 L80.4,110 L78.4,116 L76.5,122 L74.8,128 L73.2,134 L71.8,140 L70.7,146 L69.8,152 L69.2,158 L69.0,164 L69.0,170 L69.4,176 L70.1,182 L71.0,188 L72.3,194 L73.7,200 L75.4,206 L77.2,212 L79.1,218 L81.1,224 L83.1,230 L85.1,236" stroke="#111" stroke-opacity="0.14" stroke-width="11.7"/>
</g></g>
</symbol>
</defs>
<rect width="2894" height="660" fill="#fff"/>
<use href="#brain" x="39.5" y="163.6" width="205.4" height="261"/>
<text class="gr" x="258.6" y="242.7" font-size="33.5" textLength="81.4" lengthAdjust="spacingAndGlyphs">Input</text>
<polygon fill="#262626" points="275.2,260.9 310.1,260.9 310.1,252.3 327.3,268.9 310.1,285.6 310.1,277.9 275.2,277.9"/>
<g id="blocks">
<polygon fill="#365C9E" points="378.5,205.3 500,83.8 500,406.8 378.5,528.3"/>
<polygon fill="#6B8FD1" points="354.3,205.3 475.8,83.8 500,83.8 378.5,205.3"/>
<rect fill="#4472C4" x="354.3" y="205.3" width="24.2" height="323"/>
<text class="lb" transform="translate(410.4 464) rotate(-90)" text-anchor="middle" font-size="24" textLength="24.2" lengthAdjust="spacingAndGlyphs">64</text>
<polygon fill="#5A8A39" points="478.5,231.7 572.5,137.7 572.5,382.1 478.5,476.1"/>
<polygon fill="#8DBD6C" points="460,231.7 554,137.7 572.5,137.7 478.5,231.7"/>
<rect fill="#70AD47" x="460" y="231.7" width="18.5" height="244.4"/>
<text class="lb" transform="translate(507.9 420.6) rotate(-90)" text-anchor="middle" font-size="24" textLength="24.2" lengthAdjust="spacingAndGlyphs">64</text>
<polygon fill="#365C9E" points="544.6,231.7 638.6,137.7 638.6,382.1 544.6,476.1"/>
<polygon fill="#6B8FD1" points="526,231.7 620,137.7 638.6,137.7 544.6,231.7"/>
<rect fill="#4472C4" x="526" y="231.7" width="18.6" height="244.4"/>
<text class="lb" transform="translate(577.4 405.7) rotate(-90)" text-anchor="middle" font-size="24" textLength="37" lengthAdjust="spacingAndGlyphs">128</text>
<polygon fill="#5A8A39" points="631.1,255.6 690.7,196 690.7,358.6 631.1,418.2"/>
<polygon fill="#8DBD6C" points="619.4,255.6 679,196 690.7,196 631.1,255.6"/>
<rect fill="#70AD47" x="619.4" y="255.6" width="11.7" height="162.6"/>
<text class="lb" transform="translate(655.1 362) rotate(-90)" text-anchor="middle" font-size="24" textLength="37" lengthAdjust="spacingAndGlyphs">128</text>
<polygon fill="#365C9E" points="677.8,255.6 737.4,196 737.4,358.6 677.8,418.2"/>
<polygon fill="#6B8FD1" points="666,255.6 725.6,196 737.4,196 677.8,255.6"/>
<rect fill="#4472C4" x="666" y="255.6" width="11.8" height="162.6"/>
<text class="lb" transform="translate(704.1 358.9) rotate(-90)" text-anchor="middle" font-size="24" textLength="37" lengthAdjust="spacingAndGlyphs">256</text>
<polygon fill="#5A8A39" points="735.2,271.8 778.2,228.8 778.2,342 735.2,385"/>
<polygon fill="#8DBD6C" points="727.2,271.8 770.2,228.8 778.2,228.8 735.2,271.8"/>
<rect fill="#70AD47" x="727.2" y="271.8" width="8" height="113.2"/>
<text class="lb" transform="translate(756.4 335.8) rotate(-90)" text-anchor="middle" font-size="24" textLength="37" lengthAdjust="spacingAndGlyphs">256</text>
<polygon fill="#365C9E" points="771.4,271.8 814.4,228.8 814.4,342 771.4,385"/>
<polygon fill="#6B8FD1" points="763.2,271.8 806.2,228.8 814.4,228.8 771.4,271.8"/>
<rect fill="#4472C4" x="763.2" y="271.8" width="8.2" height="113.2"/>
<text class="lb" transform="translate(793.3 335) rotate(-90)" text-anchor="middle" font-size="24" textLength="37" lengthAdjust="spacingAndGlyphs">512</text>
<polygon fill="#5A8A39" points="815.2,285.3 840.7,259.8 840.7,329.7 815.2,355.2"/>
<polygon fill="#8DBD6C" points="810.2,285.3 835.7,259.8 840.7,259.8 815.2,285.3"/>
<rect fill="#70AD47" x="810.2" y="285.3" width="5" height="69.9"/>
<text class="lb" transform="translate(835 314.7) rotate(-90)" text-anchor="middle" font-size="24" textLength="37" lengthAdjust="spacingAndGlyphs">512</text>
<polygon fill="#365C9E" points="844.2,285.3 869.7,259.8 869.7,329.7 844.2,355.2"/>
<polygon fill="#6B8FD1" points="838.9,285.3 864.4,259.8 869.7,259.8 844.2,285.3"/>
<rect fill="#4472C4" x="838.9" y="285.3" width="5.3" height="69.9"/>
<text class="lb" transform="translate(863.6 307.2) rotate(-90)" text-anchor="middle" font-size="24" textLength="49.8" lengthAdjust="spacingAndGlyphs">1024</text>
<polygon fill="#365C9E" points="872.5,285.3 898,259.8 898,329.7 872.5,355.2"/>
<polygon fill="#6B8FD1" points="867.5,285.3 893,259.8 898,259.8 872.5,285.3"/>
<rect fill="#4472C4" x="867.5" y="285.3" width="5" height="69.9"/>
<text class="lb" transform="translate(891.4 312.2) rotate(-90)" text-anchor="middle" font-size="24" textLength="37" lengthAdjust="spacingAndGlyphs">512</text>
<polygon fill="#FFCD33" points="894.9,271.8 937.9,228.8 945.6,228.8 902.6,271.8"/>
<rect fill="#FFC000" x="894.9" y="271.8" width="7.7" height="113.2"/>
<polygon fill="#BF6528" points="911.6,271.8 954.6,228.8 954.6,342 911.6,385"/>
<polygon fill="#F1975A" points="902.6,271.8 945.6,228.8 954.6,228.8 911.6,271.8"/>
<rect fill="#ED7D31" x="902.6" y="271.8" width="9" height="113.2"/>
<text class="lb" transform="translate(933.9 328.2) rotate(-90)" text-anchor="middle" font-size="24" textLength="49.8" lengthAdjust="spacingAndGlyphs">1024</text>
<polygon fill="#365C9E" points="949.3,271.8 992.3,228.8 992.3,342 949.3,385"/>
<polygon fill="#6B8FD1" points="941,271.8 984,228.8 992.3,228.8 949.3,271.8"/>
<rect fill="#4472C4" x="941" y="271.8" width="8.3" height="113.2"/>
<text class="lb" transform="translate(972.8 333) rotate(-90)" text-anchor="middle" font-size="24" textLength="37" lengthAdjust="spacingAndGlyphs">512</text>
<polygon fill="#365C9E" points="990.2,271.8 1033.2,228.8 1033.2,342 990.2,385"/>
<polygon fill="#6B8FD1" points="982,271.8 1025,228.8 1033.2,228.8 990.2,271.8"/>
<rect fill="#4472C4" x="982" y="271.8" width="8.2" height="113.2"/>
<text class="lb" transform="translate(1012.9 332.3) rotate(-90)" text-anchor="middle" font-size="24" textLength="37" lengthAdjust="spacingAndGlyphs">256</text>
<polygon fill="#FFCD33" points="1027,255.6 1087.8,194.8 1100.4,194.8 1039.6,255.6"/>
<rect fill="#FFC000" x="1027" y="255.6" width="12.6" height="162.6"/>
<polygon fill="#BF6528" points="1052,255.6 1112.8,194.8 1112.8,357.4 1052,418.2"/>
<polygon fill="#F1975A" points="1039.6,255.6 1100.4,194.8 1112.8,194.8 1052,255.6"/>
<rect fill="#ED7D31" x="1039.6" y="255.6" width="12.4" height="162.6"/>
<text class="lb" transform="translate(1078.3 364.4) rotate(-90)" text-anchor="middle" font-size="24" textLength="37" lengthAdjust="spacingAndGlyphs">512</text>
<polygon fill="#365C9E" points="1107,255.6 1166.6,196 1166.6,358.6 1107,418.2"/>
<polygon fill="#6B8FD1" points="1095.2,255.6 1154.8,196 1166.6,196 1107,255.6"/>
<rect fill="#4472C4" x="1095.2" y="255.6" width="11.8" height="162.6"/>
<text class="lb" transform="translate(1130.6 363.6) rotate(-90)" text-anchor="middle" font-size="24" textLength="37" lengthAdjust="spacingAndGlyphs">256</text>
<polygon fill="#365C9E" points="1161.2,255.6 1222.2,194.6 1222.2,356.6 1161.2,417.6"/>
<polygon fill="#6B8FD1" points="1149.3,255.6 1210.3,194.6 1222.2,194.6 1161.2,255.6"/>
<rect fill="#4472C4" x="1149.3" y="255.6" width="11.9" height="162"/>
<text class="lb" transform="translate(1184.8 363.6) rotate(-90)" text-anchor="middle" font-size="24" textLength="37" lengthAdjust="spacingAndGlyphs">128</text>
<polygon fill="#FFCD33" points="1210.8,231.3 1304.3,137.8 1323.7,137.8 1230.2,231.3"/>
<rect fill="#FFC000" x="1210.8" y="231.3" width="19.4" height="244.5"/>
<polygon fill="#BF6528" points="1249.6,231.3 1343.1,137.8 1343.1,382.3 1249.6,475.8"/>
<polygon fill="#F1975A" points="1230.2,231.3 1323.7,137.8 1343.1,137.8 1249.6,231.3"/>
<rect fill="#ED7D31" x="1230.2" y="231.3" width="19.4" height="244.5"/>
<text class="lb" transform="translate(1276 406.1) rotate(-90)" text-anchor="middle" font-size="24" textLength="37" lengthAdjust="spacingAndGlyphs">256</text>
<polygon fill="#365C9E" points="1315,231.3 1409,137.3 1409,381.8 1315,475.8"/>
<polygon fill="#6B8FD1" points="1296.2,231.3 1390.2,137.3 1409,137.3 1315,231.3"/>
<rect fill="#4472C4" x="1296.2" y="231.3" width="18.8" height="244.5"/>
<text class="lb" transform="translate(1341.8 405.9) rotate(-90)" text-anchor="middle" font-size="24" textLength="37" lengthAdjust="spacingAndGlyphs">128</text>
<polygon fill="#365C9E" points="1385.7,231.3 1479.7,137.3 1479.7,381.8 1385.7,475.8"/>
<polygon fill="#6B8FD1" points="1367.3,231.3 1461.3,137.3 1479.7,137.3 1385.7,231.3"/>
<rect fill="#4472C4" x="1367.3" y="231.3" width="18.4" height="244.5"/>
<text class="lb" transform="translate(1414.2 408.8) rotate(-90)" text-anchor="middle" font-size="24" textLength="24.2" lengthAdjust="spacingAndGlyphs">64</text>
<polygon fill="#FFCD33" points="1464.3,205.3 1585.8,83.8 1609.9,83.8 1488.4,205.3"/>
<rect fill="#FFC000" x="1464.3" y="205.3" width="24.1" height="323.2"/>
<polygon fill="#BF6528" points="1513.3,205.3 1634.8,83.8 1634.8,407 1513.3,528.5"/>
<polygon fill="#F1975A" points="1488.4,205.3 1609.9,83.8 1634.8,83.8 1513.3,205.3"/>
<rect fill="#ED7D31" x="1488.4" y="205.3" width="24.9" height="323.2"/>
<text class="lb" transform="translate(1543 458.2) rotate(-90)" text-anchor="middle" font-size="24" textLength="37" lengthAdjust="spacingAndGlyphs">128</text>
<polygon fill="#365C9E" points="1586.9,205.3 1708.4,83.8 1708.4,407 1586.9,528.5"/>
<polygon fill="#6B8FD1" points="1563.2,205.3 1684.7,83.8 1708.4,83.8 1586.9,205.3"/>
<rect fill="#4472C4" x="1563.2" y="205.3" width="23.7" height="323.2"/>
<text class="lb" transform="translate(1615.4 462.3) rotate(-90)" text-anchor="middle" font-size="24" textLength="24.2" lengthAdjust="spacingAndGlyphs">64</text>
<polygon fill="#365C9E" points="1662,205.3 1783.5,83.8 1783.5,407 1662,528.5"/>
<polygon fill="#6B8FD1" points="1638,205.3 1759.5,83.8 1783.5,83.8 1662,205.3"/>
<rect fill="#4472C4" x="1638" y="205.3" width="24" height="323.2"/>
<text class="lb" transform="translate(1691 466.8) rotate(-90)" text-anchor="middle" font-size="24" textLength="24.2" lengthAdjust="spacingAndGlyphs">64</text>
</g>
<g id="skips">
<path fill="none" stroke="#ED7D31" stroke-width="2" stroke-linejoin="miter" d="M485.6,80.6 L486.6,24 H1621.2 V67.9"/>
<polygon fill="#ED7D31" points="1621.2,81.9 1609,57.9 1621.2,65.6 1633.4,57.9"/>
<path fill="none" stroke="#ED7D31" stroke-width="2" stroke-linejoin="miter" d="M628.8,133 L629.8,75 H1334.2 V118.9"/>
<polygon fill="#ED7D31" points="1334.2,132.9 1322,108.9 1334.2,116.6 1346.4,108.9"/>
<path fill="none" stroke="#ED7D31" stroke-width="2" stroke-linejoin="miter" d="M730.8,191 L731.7,134.8 H1106.3 V179.7"/>
<polygon fill="#ED7D31" points="1106.3,193.7 1094.1,169.7 1106.3,177.4 1118.5,169.7"/>
<path fill="none" stroke="#ED7D31" stroke-width="2" stroke-linejoin="miter" d="M809.5,224.3 L810,190 H948.8 V213.6"/>
<polygon fill="#ED7D31" points="948.8,227.6 936.6,203.6 948.8,211.3 961,203.6"/>
</g>
<polygon fill="#818181" stroke="#767676" stroke-width="3" points="1807.6,260.4 1842.6,260.4 1842.6,251 1860.8,269.1 1842.6,287.3 1842.6,278.2 1807.6,278.2"/>
<use href="#brain2" x="1873.9" y="69.1" width="204.6" height="259.6"/>
<use href="#brain2" x="1924" y="119.2" width="204.6" height="259.6"/>
<use href="#brain2" x="1974.1" y="169.3" width="204.6" height="259.6"/>
<use href="#brain2" x="2024.2" y="219.4" width="204.6" height="259.6"/>
<line x1="2037.5" y1="527" x2="1846" y2="343.5" stroke="#595959" stroke-width="3.8"/>
<polygon fill="#595959" points="1835,332.7 1861.5,340.5 1843.5,359.5"/>
<text class="gr" x="1947" y="538.5" font-size="33.5" textLength="74" lengthAdjust="spacingAndGlyphs">Time</text>
<polygon fill="#7030A0" points="2254,258.9 2288.1,258.9 2288.1,247.4 2309.7,269.1 2288.1,290.9 2288.1,279.7 2254,279.7"/>
<text class="gr" transform="translate(2345.5 279) rotate(-90)" text-anchor="middle" font-size="31" textLength="229" lengthAdjust="spacingAndGlyphs">Time/View angle</text>
<line x1="2363.4" y1="161.6" x2="2363.4" y2="402" stroke="#595959" stroke-width="4"/>
<polygon fill="#595959" points="2348.5,399.7 2378,399.7 2363.4,425.6"/>
<text x="2456.6" y="110.5" font-size="29.7" text-anchor="middle" textLength="125.5" lengthAdjust="spacingAndGlyphs">Predicted</text>
<text x="2456.6" y="150.8" font-size="29.7" text-anchor="middle" textLength="126" lengthAdjust="spacingAndGlyphs">Sinogram</text>
<text x="2704.4" y="110" font-size="29.7" text-anchor="middle" textLength="133" lengthAdjust="spacingAndGlyphs">Measured</text>
<text x="2704.4" y="150.3" font-size="29.7" text-anchor="middle" textLength="126" lengthAdjust="spacingAndGlyphs">Sinogram</text>
<use href="#sino" x="2384" y="163.2" width="156.3" height="235.3"/>
<use href="#sino" x="2626" y="161.4" width="156.3" height="235.6"/>
<g id="loss" fill="#000">
<text x="2332.6" y="539.2" font-size="50" textLength="112.5" lengthAdjust="spacingAndGlyphs">Loss:</text>
<text class="sf" transform="translate(2462 569) scale(1.215 1.362)" font-size="100">‖</text>
<text class="sf" x="2498.5" y="539.2" font-size="57" font-weight="bold" textLength="36" lengthAdjust="spacingAndGlyphs">Y</text>
<path d="M2501.3,489 H2533" stroke="#000" stroke-width="2.8" fill="none"/><path d="M2525.5,483 L2534.2,489 L2525.5,495" stroke="#000" stroke-width="2.4" fill="none"/>
<text class="sf" x="2546.6" y="548.5" font-size="78">−</text>
<text class="sf" x="2606" y="539.2" font-size="58" font-style="italic" textLength="46" lengthAdjust="spacingAndGlyphs">A</text>
<text class="sf" x="2655" y="539.2" font-size="58" font-style="italic" textLength="40" lengthAdjust="spacingAndGlyphs">G</text>
<text class="sf" x="2693.6" y="551" font-size="36" textLength="25.5" lengthAdjust="spacingAndGlyphs">Θ</text>
<text class="sf" x="2725.5" y="536.5" font-size="58">(</text>
<text class="sf" x="2747.5" y="538.2" font-size="57" font-weight="bold" textLength="29" lengthAdjust="spacingAndGlyphs">z</text>
<text class="sf" x="2779.5" y="536.5" font-size="58">)</text>
<path d="M2658,484.5 H2799" stroke="#000" stroke-width="2.8" fill="none"/><path d="M2791.5,478.5 L2800.2,484.5 L2791.5,490.5" stroke="#000" stroke-width="2.4" fill="none"/>
<text class="sf" transform="translate(2802 569) scale(1.26 1.362)" font-size="100">‖</text>
<text class="sf" x="2839.5" y="487.3" font-size="38.5" textLength="19.5" lengthAdjust="spacingAndGlyphs">2</text>
<text class="sf" x="2837.5" y="578.6" font-size="41" font-weight="bold" textLength="41.5" lengthAdjust="spacingAndGlyphs">W</text>
</g>
<g id="legend">
<rect x="315.8" y="579.6" width="61.1" height="46.6" fill="#4472C4"/>
<text class="lg" x="390.8" y="611.8" textLength="282" lengthAdjust="spacingAndGlyphs">Conv (3x3) S1, Bnorm, ReLU</text>
<rect x="707" y="581.4" width="61" height="44.8" fill="#70AD47"/>
<text class="lg" x="781.8" y="613" textLength="281.5" lengthAdjust="spacingAndGlyphs">Conv (3x3) S2, Bnorm, ReLU</text>
<rect x="1098" y="583" width="61" height="44.5" fill="#FFC000"/>
<text class="lg" x="1169.8" y="611.8" textLength="273.7" lengthAdjust="spacingAndGlyphs">Up-sampling (2x2), Bilinear</text>
<polygon fill="#818181" stroke="#767676" stroke-width="3" points="1469.3,595.7 1503.5,595.7 1503.5,586.2 1521.2,604.2 1503.5,621.7 1503.5,613.2 1469.3,613.2"/>
<text class="lg" x="1530.9" y="610.5" textLength="137.4" lengthAdjust="spacingAndGlyphs">Conv (1x1) S1</text>
<line x1="1720.6" y1="605" x2="1768" y2="605" stroke="#ED7D31" stroke-width="2"/>
<polygon fill="#ED7D31" points="1779.8,605 1755.4,592.8 1763.3,605 1755.4,617.2"/>
<text class="lg" x="1790.2" y="613" textLength="192.2" lengthAdjust="spacingAndGlyphs">Skip + Concatenate</text>
<polygon fill="#7030A0" points="2028,595 2062.2,595 2062.2,583.5 2083.6,605.2 2062.2,627 2062.2,615.5 2028,615.5"/>
<text class="lg" x="2095.5" y="613" textLength="194" lengthAdjust="spacingAndGlyphs">Forward Projection</text>
</g>
</svg></body></html>
